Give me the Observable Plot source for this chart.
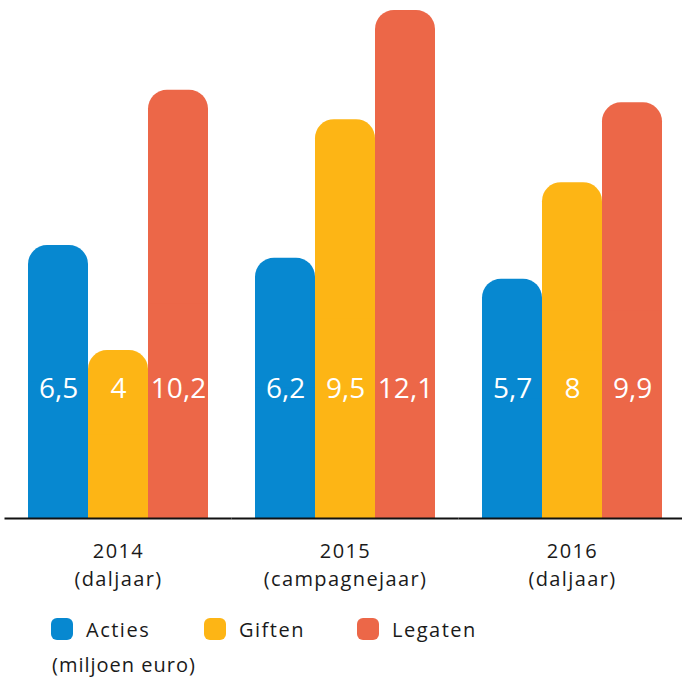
<!DOCTYPE html>
<html><head><meta charset="utf-8">
<script src="https://cdn.jsdelivr.net/npm/d3@7"></script>
<script src="https://cdn.jsdelivr.net/npm/@observablehq/plot@0.6"></script>
<style>
body{margin:0;background:#fff;font-family:"Open Sans",sans-serif;color:#1a1a1a;}
#chart svg{display:block;}
#chart g[aria-label^="fx-axis"] text{letter-spacing:1.4px;}
.legend{display:flex;margin:18px 0 0 51px;height:22px;align-items:center;}
.item{display:flex;align-items:center;width:153px;font-size:20px;letter-spacing:1.5px;}
.sw{width:22px;height:22px;border-radius:6px;margin-right:13px;flex:none;}
.caption{margin:13px 0 0 52px;font-size:20px;line-height:24px;letter-spacing:1px;}
</style></head><body>
<div id="chart"></div>
<script>
const years = ["2014", "2015", "2016"];
const yearNotes = ["(daljaar)", "(campagnejaar)", "(daljaar)"];
const series = ["Acties", "Giften", "Legaten"];
const acties = [6.5, 6.2, 5.7];
const giften = [4, 9.5, 8];
const legaten = [10.2, 12.1, 9.9];
const colors = ["#0788d0", "#fdb515", "#ec6748"];
const unitLabel = "(miljoen euro)";

const values = {Acties: acties, Giften: giften, Legaten: legaten};
const data = years.flatMap((y, i) => series.map(s => ({year: y, series: s, value: values[s][i]})));
const fmt = v => String(v).replace(".", ",");

const chart = Plot.plot({
  width: 682,
  height: 600,
  marginTop: 10,
  marginBottom: 82,
  marginLeft: 8,
  marginRight: 0,
  style: {fontFamily: "Open Sans, sans-serif", color: "#1a1a1a"},
  fx: {domain: years, paddingInner: 0.206, paddingOuter: 0.083, axis: null, label: null},
  x: {domain: series, padding: 0, axis: null},
  y: {domain: [0, 12.1], axis: null},
  color: {domain: series, range: colors},
  marks: [
    Plot.barY(data, {fx: "year", x: "series", y: "value", fill: "series", rx: 19}),
    Plot.barY(data, {fx: "year", x: "series", y: d => d.value / 2, fill: "series"}),
    Plot.text(data, {fx: "year", x: "series", text: d => fmt(d.value), frameAnchor: "bottom", dy: -121, fill: "white", fontSize: 28}),
    Plot.ruleY([0], {stroke: "#111", strokeWidth: 2, insetLeft: -23.5, insetRight: -23.5}),
    Plot.axisFx({anchor: "bottom", tickSize: 0, tickPadding: 20, fontSize: 20, lineHeight: 1.4, label: null,
      tickFormat: d => d + "\n" + yearNotes[years.indexOf(d)]})
  ]
});
document.getElementById("chart").append(chart);

const legend = document.createElement("div");
legend.className = "legend";
series.forEach((s, i) => {
  const it = document.createElement("div");
  it.className = "item";
  const sw = document.createElement("span");
  sw.className = "sw";
  sw.style.background = colors[i];
  const t = document.createElement("span");
  t.textContent = s;
  it.append(sw, t);
  legend.append(it);
});
document.body.append(legend);
const cap = document.createElement("div");
cap.className = "caption";
cap.textContent = unitLabel;
document.body.append(cap);
</script>
</body></html>
